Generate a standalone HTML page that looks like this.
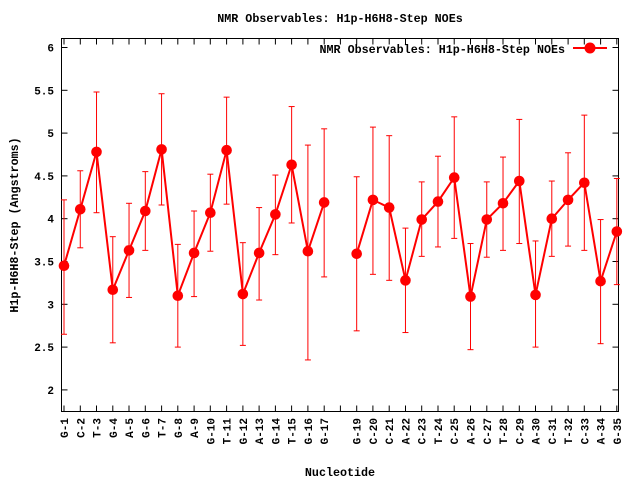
<!DOCTYPE html>
<html><head><meta charset="utf-8"><style>
html,body{margin:0;padding:0;background:#fff;}
svg text{font-family:"Liberation Mono",monospace;font-weight:bold;font-size:11px;fill:#000;}
svg text.big{font-size:11.7px;}
</style></head><body>
<svg id="s" width="640" height="480" viewBox="0 0 640 480" xmlns="http://www.w3.org/2000/svg">
<rect width="640" height="480" fill="#fff"/>
<text class="big" x="340" y="22" text-anchor="middle">NMR Observables: H1p-H6H8-Step NOEs</text>
<text class="big" x="340" y="476" text-anchor="middle">Nucleotide</text>
<text class="big" transform="translate(18,225) rotate(-90)" text-anchor="middle">H1p-H6H8-Step (Angstroms)</text>
<text class="big" x="565" y="53" text-anchor="end">NMR Observables: H1p-H6H8-Step NOEs</text>
<line x1="573" y1="48" x2="607" y2="48" stroke="#f00" stroke-width="2"/>
<circle cx="590" cy="48" r="5.5" fill="#f00"/>
<g id="g"></g>
</svg>
<script>
var L=61.5,R=618.5,T=38.5,B=411.5;
function X(i){return 64+(i-1)*16.26;}
function Y(v){return 47.5+(6-v)*85.6;}
var names=["G-1","C-2","T-3","G-4","A-5","G-6","T-7","G-8","A-9","G-10","T-11","G-12","A-13","G-14","T-15","G-16","G-17","","G-19","C-20","C-21","A-22","C-23","T-24","C-25","A-26","C-27","T-28","C-29","A-30","C-31","T-32","C-33","A-34","G-35"];
var d={1:[3.45,2.65,4.22],2:[4.11,3.66,4.56],3:[4.78,4.07,5.48],4:[3.17,2.55,3.79],5:[3.63,3.08,4.18],6:[4.09,3.63,4.55],7:[4.81,4.16,5.46],8:[3.10,2.50,3.70],9:[3.60,3.09,4.09],10:[4.07,3.62,4.52],11:[4.80,4.17,5.42],12:[3.12,2.52,3.72],13:[3.60,3.05,4.13],14:[4.05,3.58,4.51],15:[4.63,3.95,5.31],16:[3.62,2.35,4.86],17:[4.19,3.32,5.05],19:[3.59,2.69,4.49],20:[4.22,3.35,5.07],21:[4.13,3.28,4.97],22:[3.28,2.67,3.89],23:[3.99,3.56,4.43],24:[4.20,3.67,4.73],25:[4.48,3.77,5.19],26:[3.09,2.47,3.71],27:[3.99,3.55,4.43],28:[4.18,3.63,4.72],29:[4.44,3.71,5.16],30:[3.11,2.50,3.74],31:[4.00,3.56,4.44],32:[4.22,3.68,4.77],33:[4.42,3.63,5.21],34:[3.27,2.54,3.99],35:[3.85,3.23,4.47]};
var h='<rect x="'+L+'" y="'+T+'" width="'+(R-L)+'" height="'+(B-T)+'" fill="none" stroke="#000" stroke-width="1"/>';
var yl=[2,2.5,3,3.5,4,4.5,5,5.5,6];
yl.forEach(function(v){var y=Y(v).toFixed(1);h+='<line x1="'+L+'" y1="'+y+'" x2="'+(L+6)+'" y2="'+y+'" stroke="#000"/><line x1="'+R+'" y1="'+y+'" x2="'+(R-6)+'" y2="'+y+'" stroke="#000"/>';h+='<text x="54" y="'+(Y(v)+4).toFixed(1)+'" text-anchor="end">'+v+'</text>';});
for(var i=1;i<=35;i++){var x=X(i).toFixed(1);h+='<line x1="'+x+'" y1="'+B+'" x2="'+x+'" y2="'+(B-6)+'" stroke="#000"/><line x1="'+x+'" y1="'+T+'" x2="'+x+'" y2="'+(T+6)+'" stroke="#000"/>';
if(names[i-1])h+='<text transform="translate('+(X(i)+4).toFixed(1)+',418) rotate(-90)" text-anchor="end">'+names[i-1]+'</text>';}
var s1=[],s2=[];
for(var i=1;i<=35;i++){if(!d[i])continue;var v=d[i],x=X(i);
h+='<line x1="'+x+'" y1="'+Y(v[1])+'" x2="'+x+'" y2="'+Y(v[2])+'" stroke="#f00"/>';
h+='<line x1="'+(x-3)+'" y1="'+Y(v[1])+'" x2="'+(x+3)+'" y2="'+Y(v[1])+'" stroke="#f00"/>';
h+='<line x1="'+(x-3)+'" y1="'+Y(v[2])+'" x2="'+(x+3)+'" y2="'+Y(v[2])+'" stroke="#f00"/>';
(i<18?s1:s2).push(x.toFixed(1)+','+Y(v[0]).toFixed(1));}
h+='<polyline points="'+s1.join(' ')+'" fill="none" stroke="#f00" stroke-width="2"/>';
h+='<polyline points="'+s2.join(' ')+'" fill="none" stroke="#f00" stroke-width="2"/>';
for(var i=1;i<=35;i++){if(!d[i])continue;h+='<circle cx="'+X(i)+'" cy="'+Y(d[i][0])+'" r="5.3" fill="#f00"/>';}
document.getElementById('g').innerHTML=h;
</script>
</body></html>
